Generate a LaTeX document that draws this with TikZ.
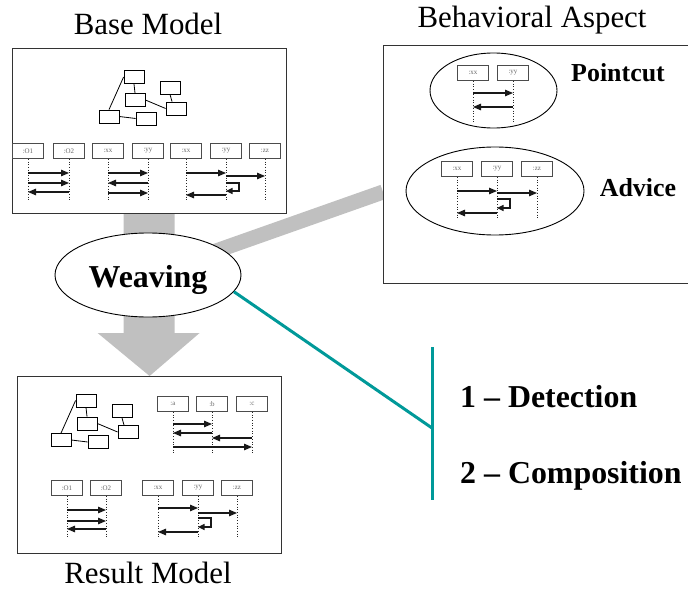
\documentclass[tikz,border=0pt]{standalone}
\usepackage{fontspec}
\setmainfont{Liberation Serif}
\usetikzlibrary{arrows.meta,shapes.geometric,calc}
\definecolor{bandgray}{RGB}{192,192,192}
\definecolor{tealline}{RGB}{0,153,153}
\pgfdeclarelayer{bg}
\pgfsetlayers{bg,main}
\tikzset{
  sbox/.style={draw=black!70, fill=white, line width=0.8bp, minimum width=31bp, minimum height=15bp, inner sep=0pt, font=\fontsize{7}{8}\selectfont, text=black!60},
  life/.style={black!85, line width=0.7bp, dotted},
  msg/.style={black!90, line width=1.1bp, -{Triangle[length=8bp,width=6.5bp]}},
  msgs/.style={black!90, line width=1.1bp, -{Triangle[length=6.5bp,width=6bp]}},
  cbox/.style={draw, line width=0.8bp, minimum width=20bp, minimum height=13bp, inner sep=0pt},
  cline/.style={line width=0.8bp},
  frame/.style={draw=black!80, fill=white, line width=1.2bp, inner sep=0pt},
  oval/.style={draw, ellipse, fill=white, line width=0.9bp, inner sep=0pt},
  title/.style={font=\fontsize{31}{36}\selectfont, anchor=base, inner sep=0pt},
  btext/.style={font=\bfseries\fontsize{32}{38}\selectfont, anchor=base west, inner sep=0pt},
  mtext/.style={font=\bfseries\fontsize{26}{30}\selectfont, anchor=base, inner sep=0pt},
  teal/.style={tealline, line width=3bp},
}
\newcommand\lifebox[5]{%
  \node[sbox] (#1) at (#2,#3) {#4};
  \draw[life] (#1.south) -- ++(0,#5) coordinate (#1-end);}
\newcommand\smsg[3]{\draw[msg] (#1.center |- 0,#3) -- (#2.center |- 0,#3);}
\newcommand\sloop[3]{\draw[msgs] (#1.center |- 0,#2) -- ++(13,0) |- (#1.center |- 0,#3);}
\newcommand\classdiag[1]{%
  \node[cbox] (#1A) at (134,77) {};
  \node[cbox] (#1B) at (170,87.5) {};
  \node[cbox] (#1C) at (135,100) {};
  \node[cbox] (#1D) at (176,108.5) {};
  \node[cbox] (#1E) at (109,116.5) {};
  \node[cbox] (#1F) at (146,118.5) {};
  \draw[cline] (#1A.west) -- (#1E.north);
  \draw[cline] (#1A.south) -- (#1C.north);
  \draw[cline] (#1C.east) -- (#1D.west);
  \draw[cline] (#1B.south) -- (#1D.120);
  \draw[cline] (#1E.east) -- (#1F.west);}
\begin{document}
\begin{tikzpicture}[x=1bp,y=-1bp]
\useasboundingbox (0,0) rectangle (688,590);

% frames
\node[frame, minimum width=274bp, minimum height=165bp, anchor=north west] (base) at (12,48) {};
\node[frame, minimum width=320bp, minimum height=238bp, anchor=north west] (beh) at (383,45) {};
\node[frame, minimum width=264bp, minimum height=177bp, anchor=north west] (result) at (17,376) {};

% titles
\node[title] (tbase) at (148,35) {Base Model};
\node[title] (tbeh) at (532,28) {Behavioral Aspect};
\node[title] (tres) at (148,583) {Result Model};

% weaving
\node[oval, minimum width=186bp, minimum height=84bp] (weave) at (148,275) {};
\node[font=\bfseries\fontsize{32}{38}\selectfont, anchor=base, inner sep=0pt] (tweave) at (148,287) {Weaving};

% gray connectors
\coordinate (bandend) at (383,192);
\begin{pgfonlayer}{bg}
  \draw[bandgray, line width=15bp] (weave.center) -- (bandend);
  \fill[bandgray] ($(base.south)+(-26,0)$) -- ($(base.south)+(25,0)$)
    -- ($(result.north)+(25,-43)$) -- ($(result.north)+(50,-43)$) -- (result.north)
    -- ($(result.north)+(-52,-43)$) -- ($(result.north)+(-26,-43)$) -- cycle;
\end{pgfonlayer}

% teal connector
\coordinate (tj) at (432,428);
\coordinate (vt) at (432,347);
\coordinate (vb) at (432,500);
\draw[teal] (weave.-11) -- (tj);
\draw[teal] (vt) -- (vb);
\node[btext] (det) at (460,407) {1 – Detection};
\node[btext] (comp) at (460,483) {2 – Composition};

% base model content
\classdiag{b}
\lifebox{bo1}{28}{151}{:O1}{42}
\lifebox{bo2}{69}{151}{:O2}{42}
\smsg{bo1}{bo2}{173}\smsg{bo1}{bo2}{183}\smsg{bo2}{bo1}{192}
\lifebox{bx1}{108}{151}{:xx}{42}
\lifebox{by1}{148}{151}{:yy}{42}
\smsg{bx1}{by1}{173}\smsg{by1}{bx1}{183}\smsg{bx1}{by1}{193}
\lifebox{bx2}{186}{151}{:xx}{42}
\lifebox{by2}{226}{151}{:yy}{42}
\lifebox{bz2}{265}{151}{:zz}{42}
\smsg{bx2}{by2}{173}\smsg{by2}{bz2}{176}\sloop{by2}{183}{191}\smsg{by2}{bx2}{195}

% behavioral aspect
\node[oval, minimum width=127bp, minimum height=75bp] (pce) at (493.5,90.5) {};
\lifebox{px}{473}{73}{:xx}{41.5}
\lifebox{py}{513}{73}{:yy}{41.5}
\smsg{px}{py}{93}\smsg{py}{px}{107}
\node[mtext] (tpc) at (618,82) {Pointcut};
\node[oval, minimum width=178bp, minimum height=88bp] (ade) at (495,191) {};
\lifebox{ax}{457}{169}{:xx}{41.5}
\lifebox{ay}{497}{169}{:yy}{41.5}
\lifebox{az}{537}{169}{:zz}{41.5}
\smsg{ax}{ay}{191}\smsg{ay}{az}{193}\sloop{ay}{199}{208}\smsg{ay}{ax}{213}
\node[mtext] (tad) at (638,197) {Advice};

% result model content
\begin{scope}[shift={(-48,323.5)}]
  \classdiag{r}
\end{scope}
\lifebox{ra}{173}{404}{:a}{41.5}
\lifebox{rb}{212}{404}{:b}{41.5}
\lifebox{rc}{252}{404}{:c}{41.5}
\smsg{ra}{rb}{424}\smsg{rb}{ra}{433}\smsg{rc}{rb}{438}\smsg{ra}{rc}{447}
\lifebox{ro1}{67}{488}{:O1}{42}
\lifebox{ro2}{106}{488}{:O2}{42}
\smsg{ro1}{ro2}{510}\smsg{ro1}{ro2}{521}\smsg{ro2}{ro1}{529}
\lifebox{rx}{158}{488}{:xx}{42}
\lifebox{ry}{198}{488}{:yy}{42}
\lifebox{rz}{237}{488}{:zz}{42}
\smsg{rx}{ry}{508}\smsg{ry}{rz}{513}\sloop{ry}{518}{527}\smsg{ry}{rx}{532}
\end{tikzpicture}
\end{document}
